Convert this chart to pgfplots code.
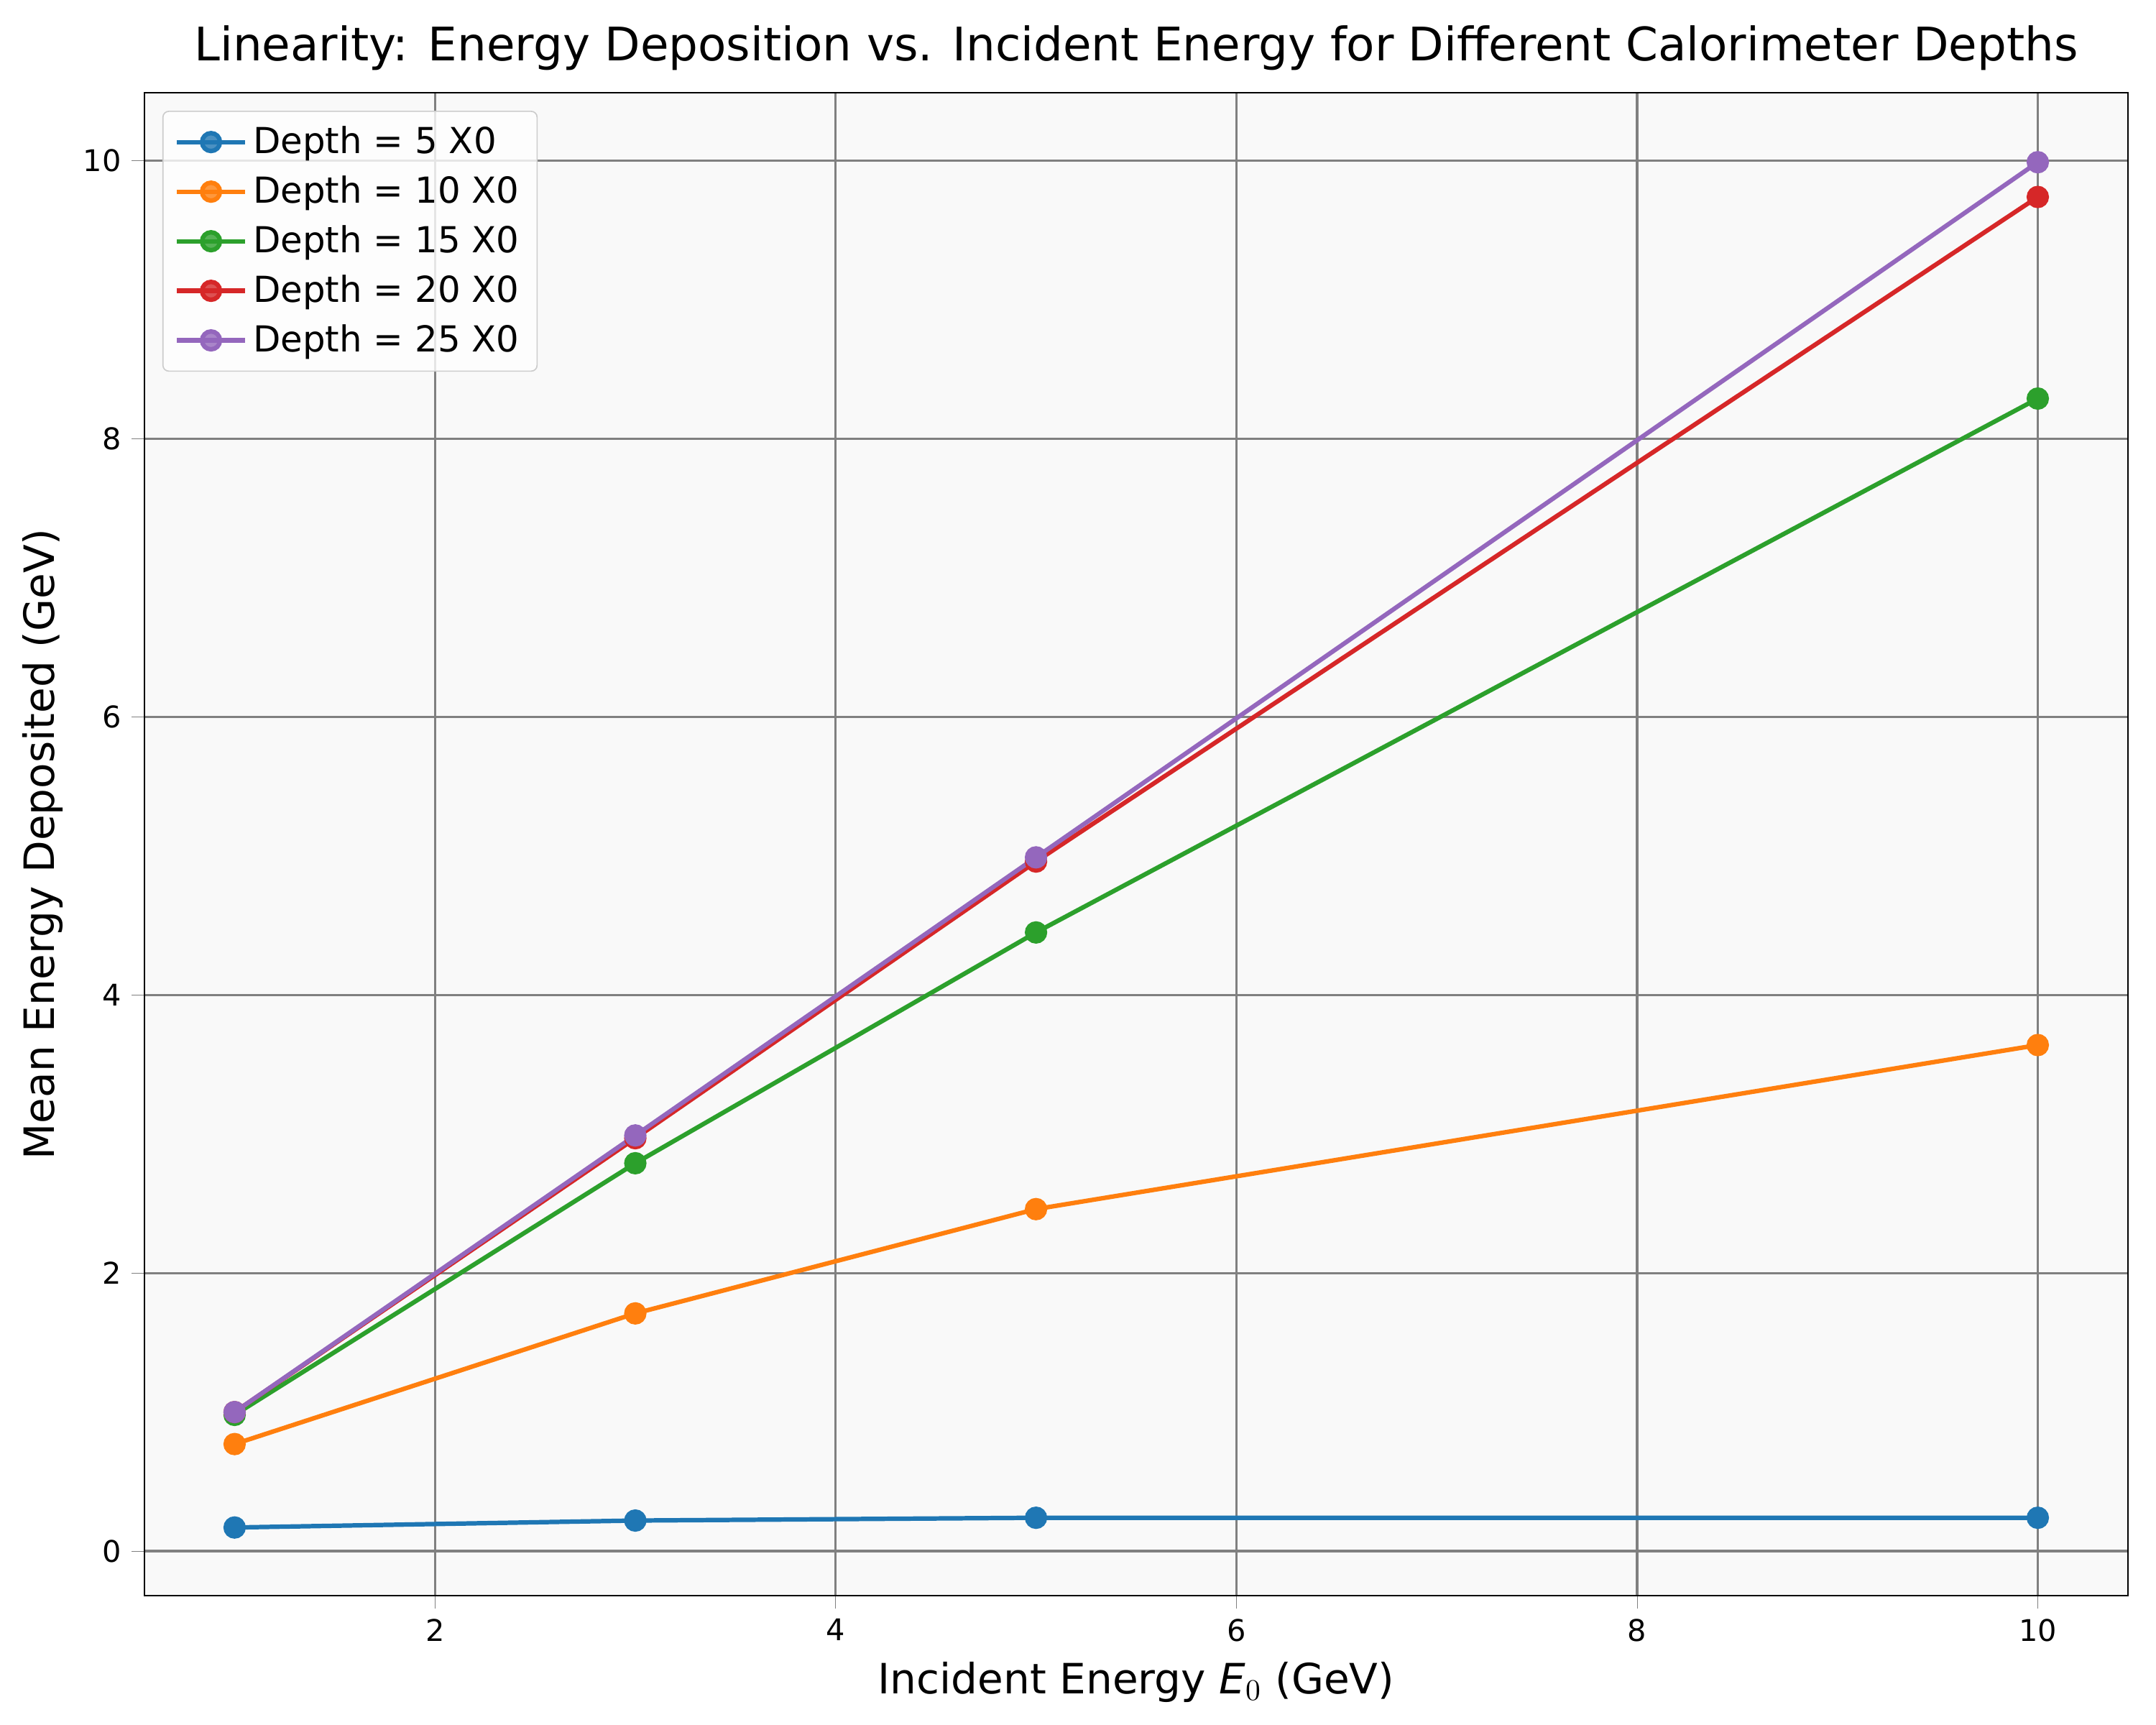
\documentclass[border=0pt]{standalone}
\usepackage{fontspec}
\setmainfont{DejaVu Sans}
\usepackage{pgfplots}
\pgfplotsset{compat=1.18}
\definecolor{c1}{HTML}{1F77B4}
\definecolor{c2}{HTML}{FF7F0E}
\definecolor{c3}{HTML}{2CA02C}
\definecolor{c4}{HTML}{D62728}
\definecolor{c5}{HTML}{9467BD}
\begin{document}
\begin{tikzpicture}
\useasboundingbox (-0.67in,-0.60in) rectangle (9.33in,7.40in);
\begin{axis}[
 scale only axis, width=9.2in, height=6.97in,
 xmin=0.55, xmax=10.45, ymin=-0.32, ymax=10.49,
 xtick={2,4,6,8,10}, ytick={0,2,4,6,8,10},
 grid=major, grid style={gray, line width=0.8pt},
 axis background/.style={fill=black!2.5},
 tick label style={font=\fontsize{10}{12}\selectfont},
 /pgf/number format/assume math mode=true,
 tick align=outside, tick pos=left,
 title={Linearity: Energy Deposition vs. Incident Energy for Different Calorimeter Depths},
 title style={font=\fontsize{15.5}{19}\selectfont, yshift=-2pt},
 xlabel={Incident Energy \textit{E}$_0$ (GeV)},
 ylabel={Mean Energy Deposited (GeV)},
 label style={font=\fontsize{14}{17}\selectfont},
 legend style={at={(0.009,0.988)}, anchor=north west, font=\fontsize{12}{14}\selectfont, draw=black!20, rounded corners=2pt, fill=white, fill opacity=0.8, text opacity=1, row sep=2pt, inner xsep=4pt, inner ysep=3pt},
 legend image post style={},
 legend image code/.code={\draw[#1] (0cm,0cm) -- (0.8cm,0cm); \draw[#1,mark repeat=2,mark phase=2] plot coordinates {(0cm,0cm) (0.4cm,0cm) (0.8cm,0cm)};},
 legend cell align=left,
 every axis plot/.append style={line width=1.5pt, mark=*, mark size=3pt},
]
\addplot[c1, mark options={fill=c1}] coordinates {(1,0.17)(3,0.22)(5,0.24)(10,0.24)};
\addlegendentry{Depth = 5 X0}
\addplot[c2, mark options={fill=c2}] coordinates {(1,0.77)(3,1.71)(5,2.46)(10,3.64)};
\addlegendentry{Depth = 10 X0}
\addplot[c3, mark options={fill=c3}] coordinates {(1,0.98)(3,2.79)(5,4.45)(10,8.29)};
\addlegendentry{Depth = 15 X0}
\addplot[c4, mark options={fill=c4}] coordinates {(1,1.0)(3,2.97)(5,4.96)(10,9.74)};
\addlegendentry{Depth = 20 X0}
\addplot[c5, mark options={fill=c5}] coordinates {(1,1.0)(3,2.99)(5,4.99)(10,9.99)};
\addlegendentry{Depth = 25 X0}
\end{axis}
\end{tikzpicture}
\end{document}
